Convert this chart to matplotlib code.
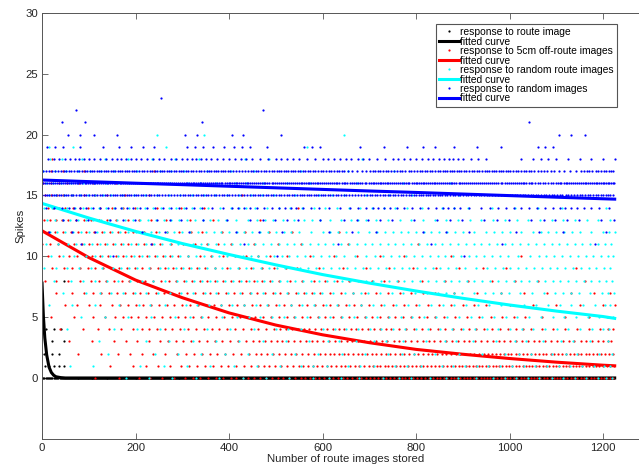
import numpy as np
import matplotlib
matplotlib.use('Agg')
import matplotlib.pyplot as plt

plt.rcParams['font.family'] = ['Liberation Sans', 'DejaVu Sans']

# x bins of 50 stored images (last one is half), dot counts per bin written in base 36
bin_edges = [0, 50, 100, 150, 200, 250, 300, 350, 400, 450, 500, 550, 600,
             650, 700, 750, 800, 850, 900, 950, 1000, 1050, 1100, 1150, 1200, 1225]

black_levels = [8, 4, 3, 2, 1, 0]
black_counts = ["10000 00000 00000 00000 00000",
                "30000 00000 00000 00000 00000",
                "20000 00000 00000 00000 00000",
                "30000 00000 00000 00000 00000",
                "50000 00000 00000 00000 00000",
                "kpppp ppppp ppppp ppppp ppppc"]

red_levels = [18, 17, 16, 15, 14, 13, 12, 11, 10, 9, 8, 7, 6, 5, 4, 3, 2, 1, 0]
red_counts = ["10000 00000 00000 00000 00000",
              "21001 00000 00000 00000 00000",
              "32110 00000 00000 00000 00000",
              "42211 00010 00000 00000 00000",
              "43221 11000 10000 00000 00000",
              "43322 11101 00000 00000 00000",
              "33332 22111 10100 00000 00000",
              "33333 22211 11010 01000 00000",
              "23333 32222 11111 10100 10000",
              "23333 33222 21111 11111 00100",
              "22333 33333 22222 11111 11010",
              "12333 33333 33222 22111 11111",
              "12233 33333 33332 22221 11111",
              "11233 33333 33333 33222 21111",
              "11223 33333 44444 33333 32222",
              "01122 33334 44444 44444 44443",
              "01122 23334 44555 55556 66663",
              "00112 23334 45556 66677 77773",
              "00112 23344 45556 66777 77774"]

cyan_levels = [20, 19, 18, 17, 16, 15, 14, 13, 12, 11, 10, 9, 8, 7, 6, 5, 4, 3, 2, 1, 0]
cyan_counts = ["00001 01000 00100 00000 00000",
               "11000 10000 01000 00000 00000",
               "21111 11011 00010 00000 00000",
               "22211 21111 01010 10000 00000",
               "32222 12121 11010 10100 00000",
               "33322 22222 11211 10101 00000",
               "33333 33232 22222 21211 11101",
               "33333 33323 23232 22222 22221",
               "33333 33333 32323 33323 23322",
               "23333 33333 33333 33333 33332",
               "22333 33333 33323 33333 23332",
               "22232 33333 33333 33323 33332",
               "12222 23333 33333 33333 33332",
               "11222 22222 23232 22323 22322",
               "11112 12222 22222 22222 22222",
               "01111 12122 22222 22222 22222",
               "01011 11111 21222 22222 22222",
               "00101 11111 11212 11211 21211",
               "00101 11111 11111 21111 21211",
               "01101 11111 12121 21222 22222",
               "00011 11111 11211 21212 22222"]

blue_levels = [23, 22, 21, 20, 19, 18, 17, 16, 15, 14, 13, 12, 11, 10]
blue_counts = ["00000 10000 00000 00000 00000",
               "01000 00001 00000 00000 00000",
               "11000 01000 00000 00000 10000",
               "02110 02020 10000 00000 00210",
               "31122 03231 03011 12111 03000",
               "45454 45443 43443 44530 23221",
               "89aa9 a9a89 a9959 89a9a 97485",
               "ccdcd cdcdc cdcbd cdccb c9cd7",
               "a99a9 89989 9a989 9a998 99895",
               "34343 33243 43234 33423 33431",
               "12121 21112 21122 11212 12211",
               "11101 11011 10111 01110 11101",
               "01001 00010 00100 01001 00010",
               "00010 00000 10000 00010 00000"]

# fitted curves
fit_x = [0, 100, 200, 300, 400, 500, 600, 700, 800, 900, 1000, 1100, 1200, 1225]
red_fit = [12.1, 9.9, 8.05, 6.6, 5.35, 4.35, 3.55, 2.9, 2.35, 1.95, 1.6, 1.3, 1.05, 1.0]
cyan_fit = [14.35, 13.15, 12.05, 11.05, 10.15, 9.3, 8.5, 7.8, 7.15, 6.55, 6.0, 5.5, 5.05, 4.9]
blue_fit = [16.27, 16.14, 16.01, 15.89, 15.76, 15.63, 15.5, 15.37, 15.25, 15.12, 14.99, 14.86, 14.73, 14.7]
black_x = [0, 3, 6, 10, 15, 20, 25, 30, 40, 50, 100, 1225]
black_fit = [7.8, 5.05, 3.3, 1.9, 0.9, 0.45, 0.22, 0.1, 0.03, 0.0, 0.0, 0.0]


def expand(levels, counts, shift):
    # spread the counted dots through each bin; the phase only keeps rows from lining up
    xs, ys = [], []
    for lev, row in zip(levels, counts):
        row = row.replace(' ', '')
        phase = (lev * 0.618 + shift) % 1.0
        for b, ch in enumerate(row):
            n = int(ch, 36)
            lo, hi = bin_edges[b], bin_edges[b + 1]
            for k in range(n):
                xs.append(round(lo + (k + phase) * (hi - lo) / n))
                ys.append(lev)
    return np.array(xs), np.array(ys)


fig = plt.figure(figsize=(6.39, 4.65), dpi=100)
ax = fig.add_axes([42 / 639, 26.2 / 465, (649.75 - 42) / 639, (465 - 13 - 26.2) / 465])

series = [(black_levels, black_counts, black_x, black_fit, 'k', 'response to route image'),
          (red_levels, red_counts, fit_x, red_fit, '#ff0000', 'response to 5cm off-route images'),
          (cyan_levels, cyan_counts, fit_x, cyan_fit, '#00ffff', 'response to random route images'),
          (blue_levels, blue_counts, fit_x, blue_fit, '#0000ff', 'response to random images')]

for i, (levels, counts, cx, cy, col, lab) in enumerate(series):
    xs, ys = expand(levels, counts, i * 0.29)
    ax.plot(xs, ys, '.', ms=3.2, mew=0, color=col, label=lab)
    ax.plot(cx, cy, '-', lw=2.2, color=col, label='fitted curve')

ax.set_xlim(0, 1300)
ax.set_ylim(-5, 30)
ax.set_xticks([0, 200, 400, 600, 800, 1000, 1200])
ax.set_yticks([0, 5, 10, 15, 20, 25, 30])
ax.tick_params(direction='in', top=True, right=True, length=4, width=0.6,
               colors='#555555', labelcolor='#262626', labelsize=8.2, pad=3)
for sp in ax.spines.values():
    sp.set_color('#555555')
    sp.set_linewidth(0.7)

ax.set_xlabel('Number of route images stored', fontsize=8.2, color='#262626', labelpad=1)
ax.set_ylabel('Spikes', fontsize=8.2, color='#262626', labelpad=0)

leg = ax.legend(loc='upper left', bbox_to_anchor=(436 / 639, 1 - 24 / 465),
                bbox_transform=fig.transFigure, fontsize=7.4, frameon=True,
                fancybox=False, edgecolor='#555555', framealpha=1, borderpad=0.3,
                labelspacing=-0.05, handlelength=1.95, handletextpad=0.1,
                borderaxespad=0, numpoints=1)
leg.get_frame().set_linewidth(0.8)

fig.savefig('out.png', dpi=100)
